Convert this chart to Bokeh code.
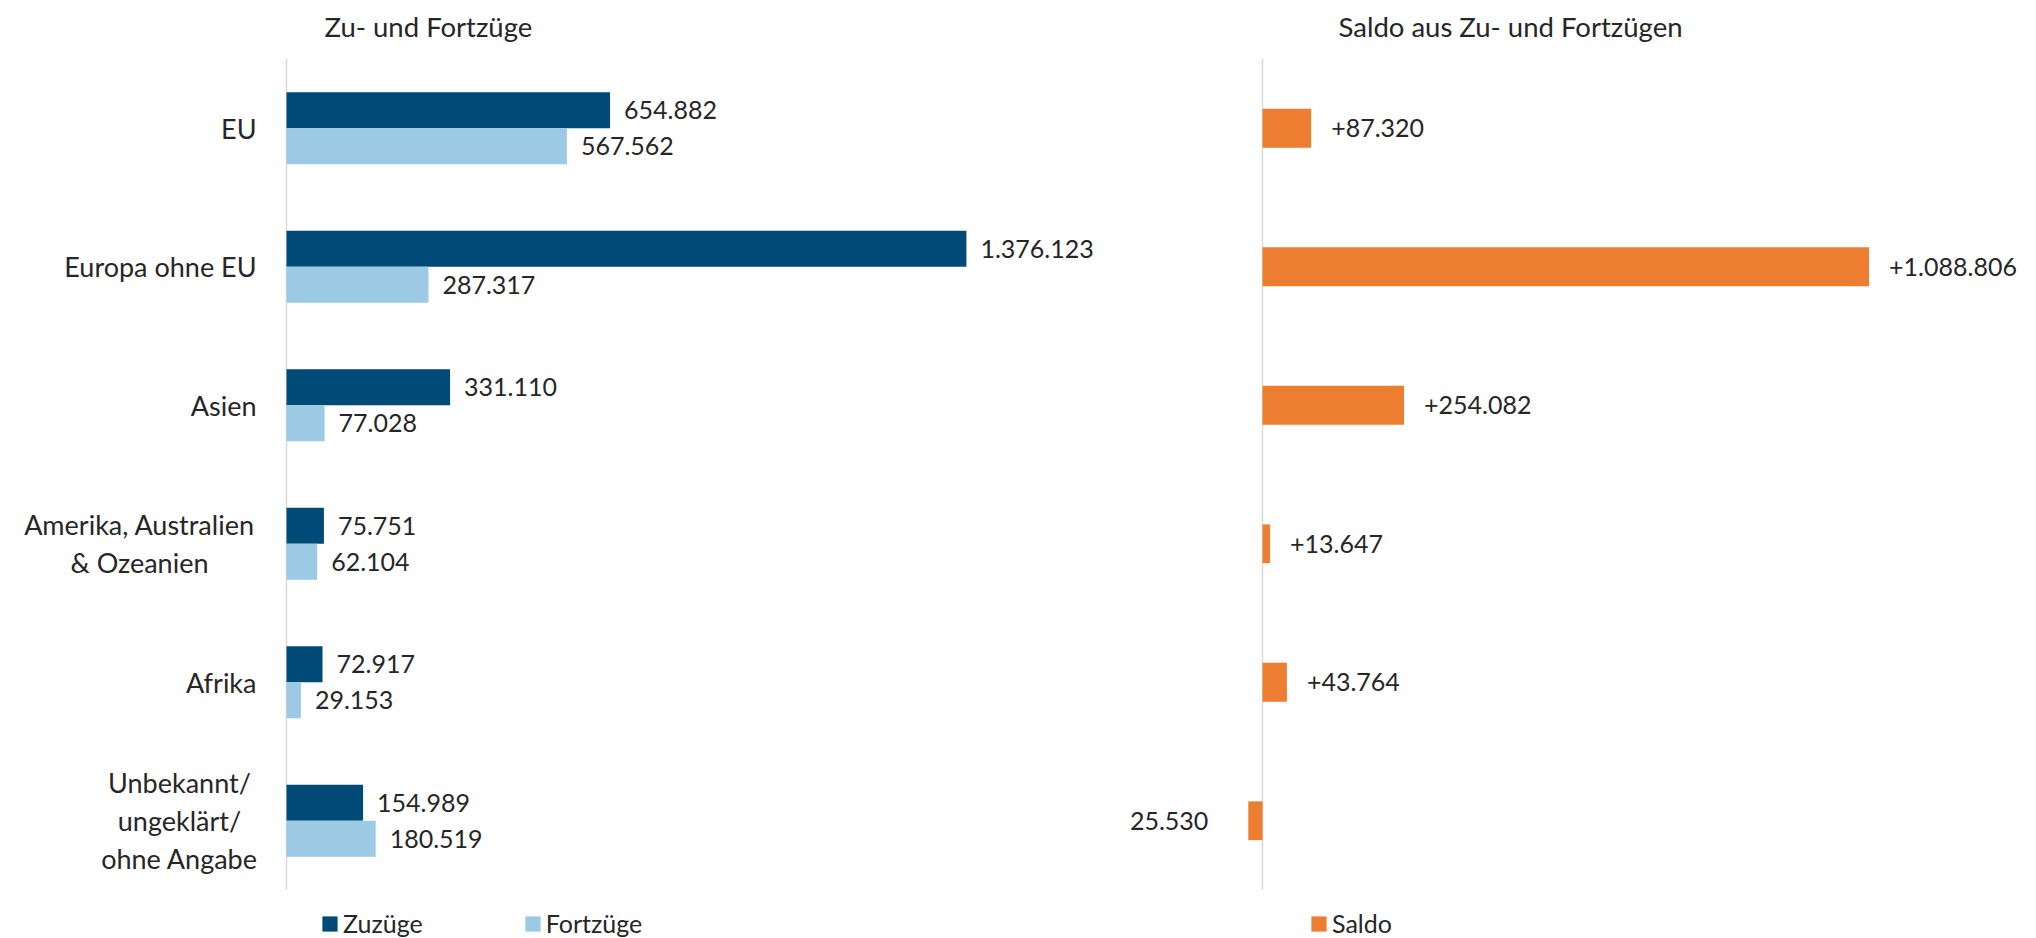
from bokeh.plotting import figure
from bokeh.models import Range1d, FactorRange, ColumnDataSource, Label, Legend, LegendItem
from bokeh.transform import dodge
from bokeh.core.properties import value
from bokeh.embed import file_html
from bokeh.resources import INLINE

# ---- data ----
categories = ["EU", "Europa ohne EU", "Asien", "Amerika, Australien\n& Ozeanien",
              "Afrika", "Unbekannt/\nungeklärt/\nohne Angabe"]
zuzuege = [654882, 1376123, 331110, 75751, 72917, 154989]
fortzuege = [567562, 287317, 77028, 62104, 29153, 180519]
saldo = [87320, 1088806, 254082, 13647, 43764, -25530]

title_left = "Zu- und Fortzüge"
title_right = "Saldo aus Zu- und Fortzügen"

# layout of the category labels (right-aligned blocks, multi-line blocks centred)
cat_align = ["right", "right", "right", "center", "right", "center"]
cat_offset = [-30, -30, -30, -147, -30, -107]


def fmt(v):
    return f"{abs(v):,}".replace(",", ".")


src = ColumnDataSource(dict(
    cat=categories, zu=zuzuege, fo=fortzuege,
    zu_lbl=[fmt(v) for v in zuzuege], fo_lbl=[fmt(v) for v in fortzuege],
    zero=[0] * len(categories), align=cat_align, off=cat_offset,
))
pos = [i for i, v in enumerate(saldo) if v >= 0]
neg = [i for i, v in enumerate(saldo) if v < 0]
src_sp = ColumnDataSource(dict(cat=[categories[i] for i in pos], s=[saldo[i] for i in pos],
                               lbl=["+" + fmt(saldo[i]) for i in pos]))
src_sn = ColumnDataSource(dict(cat=[categories[i] for i in neg], s=[saldo[i] for i in neg],
                               lbl=[fmt(saldo[i]) for i in neg]))

FONT = "Lato"
TXT = "#262626"
DARK = "#004a77"
LIGHT = "#9cc9e3"
ORANGE = "#ed7d31"
AXIS = "#d9d9d9"

W, H = 2030, 938
CAT_PX = 138.5          # pixel height of one category band
PAD = 48.5 / CAT_PX     # padding above/below the category bands
N = len(categories)
X0_LEFT = 286           # pixel position of the left panel's zero line
X0_RIGHT = 1262         # pixel position of the right panel's zero line
U_LEFT = 2024           # data units per pixel, left panel
U_RIGHT = 1795          # data units per pixel, right panel

p = figure(width=W, height=H,
           y_range=FactorRange(factors=categories[::-1], range_padding=PAD,
                               range_padding_units="absolute"),
           x_range=Range1d(-X0_LEFT * U_LEFT, (W - X0_LEFT) * U_LEFT),
           output_backend="svg", toolbar_location=None,
           x_axis_location=None, y_axis_location=None,
           min_border_left=0, min_border_top=10, min_border_bottom=0, min_border_right=0)
p.extra_x_ranges = {"saldo": Range1d(-X0_RIGHT * U_RIGHT, (W - X0_RIGHT) * U_RIGHT)}
p.outline_line_color = None
p.grid.visible = False
p.background_fill_color = "white"

# axis lines of the two panels (span only the category bands)
p.segment(x0=[0], y0=[0], x1=[0], y1=[N], line_color=AXIS, line_width=1.5)
p.segment(x0=[0], y0=[0], x1=[0], y1=[N], line_color=AXIS, line_width=1.5,
          x_range_name="saldo")

# category labels
p.text(x="zero", y="cat", text="cat", x_offset="off", text_align="align",
       text_baseline="middle", text_font=value(FONT), text_font_size="27px",
       text_color=TXT, text_line_height=1.15, source=src)

r_zu = p.hbar(y=dodge("cat", 0.13, range=p.y_range), left=0, right="zu", height=0.26,
              fill_color=DARK, line_color=None, source=src)
r_fo = p.hbar(y=dodge("cat", -0.13, range=p.y_range), left=0, right="fo", height=0.26,
              fill_color=LIGHT, line_color=None, source=src)
r_sa = p.hbar(y="cat", left=0, right="s", height=0.28, fill_color=ORANGE, line_color=None,
              source=src_sp, x_range_name="saldo")
p.hbar(y="cat", left=0, right="s", height=0.28, fill_color=ORANGE, line_color=None,
       source=src_sn, x_range_name="saldo")

lbl_kw = dict(text_baseline="middle", text_font=value(FONT), text_font_size="25px",
              text_color=TXT)
p.text(x="zu", y=dodge("cat", 0.13, range=p.y_range), text="zu_lbl", x_offset=14,
       text_align="left", source=src, **lbl_kw)
p.text(x="fo", y=dodge("cat", -0.13, range=p.y_range), text="fo_lbl", x_offset=14,
       text_align="left", source=src, **lbl_kw)
p.text(x="s", y="cat", text="lbl", x_offset=20, text_align="left", source=src_sp,
       x_range_name="saldo", **lbl_kw)
p.text(x="s", y="cat", text="lbl", x_offset=-40, text_align="right", source=src_sn,
       x_range_name="saldo", **lbl_kw)

TITLE_Y = N + 33 / CAT_PX
p.add_layout(Label(x=38 * U_LEFT, y=TITLE_Y, text=title_left,
                   text_font=FONT, text_font_size="27.5px", text_color=TXT,
                   text_baseline="middle"))
p.add_layout(Label(x=76 * U_RIGHT, y=TITLE_Y, text=title_right,
                   text_font=FONT, text_font_size="27.5px", text_color=TXT,
                   text_baseline="middle", x_range_name="saldo"))

leg_kw = dict(orientation="horizontal", label_text_font=FONT, label_text_font_size="25px",
              label_text_color=TXT, glyph_width=19, glyph_height=19, label_standoff=4,
              padding=0, margin=0, border_line_color=None, background_fill_alpha=0,
              spacing=100, label_height=24)
leg1 = Legend(items=[LegendItem(label="Zuzüge", renderers=[r_zu]),
                     LegendItem(label="Fortzüge", renderers=[r_fo])],
              location=(X0_LEFT + 34, 0), **leg_kw)
leg2 = Legend(items=[LegendItem(label="Saldo", renderers=[r_sa])],
              location=(X0_RIGHT + 47, 0), **leg_kw)
p.add_layout(leg1)
p.add_layout(leg2)

open("out.html", "w").write(file_html(p, INLINE))
